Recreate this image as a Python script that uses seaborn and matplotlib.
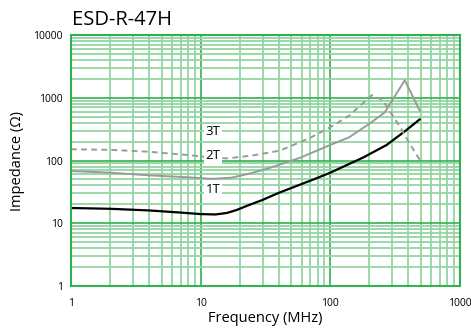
import numpy as np
import pandas as pd
import matplotlib
matplotlib.use("Agg")
import matplotlib.pyplot as plt
from matplotlib.ticker import FixedLocator, LogLocator, NullFormatter
import seaborn as sns

# chart data
f_1t = [1, 2, 4, 7, 10, 13, 16, 19, 24, 30, 40, 58, 80, 100, 118, 180, 272, 387, 490]
z_1t = [17.5, 17, 16, 14.8, 14, 13.8, 14.6, 16.3, 19.8, 23.5, 30.5, 41, 53, 64, 75, 112, 177, 306, 454]

f_2t = [1, 2, 4, 8, 12, 17, 24, 34, 58, 100, 140, 202, 263, 375, 490]
z_2t = [68, 64, 58, 54, 51, 53, 62, 76, 110, 177, 235, 390, 585, 1900, 620]

f_3t = [1, 2, 4, 8, 12, 16, 25, 41, 70, 100, 140, 209, 253, 344, 423, 490]
z_3t = [151, 148, 138, 122, 112, 108, 120, 144, 230, 340, 520, 1100, 920, 346, 166, 102]

x_ticks = [1, 10, 100, 1000]
x_tick_labels = ["1", "10", "100", "1000"]
y_ticks = [1, 10, 100, 1000, 10000]
y_tick_labels = ["1", "10", "100", "1000", "10000"]

# curve labels: text, frequency, impedance
curve_labels = [("3T", 12.4, 285), ("2T", 12.4, 119), ("1T", 12.4, 35)]

sns.set_style("white")
plt.rcParams['font.family'] = ['Open Sans', 'DejaVu Sans']

fig = plt.figure(figsize=(4.71, 3.29), dpi=100)
ax = fig.add_axes([0.1507, 0.1307, 0.8259, 0.7629])

green = "#33b150"
light_green = "#93d6a3"

sns.lineplot(x=f_1t, y=z_1t, ax=ax, color="black", linewidth=1.6, sort=False)
sns.lineplot(x=f_2t, y=z_2t, ax=ax, color="#9a9a9a", linewidth=1.4, sort=False)
sns.lineplot(x=f_3t, y=z_3t, ax=ax, color="#9a9a9a", linewidth=1.4, sort=False,
             linestyle=(0, (3, 2.2)))

ax.set_xscale("log")
ax.set_yscale("log")
ax.set_xlim(1, 1000)
ax.set_ylim(1, 10000)

ax.xaxis.set_major_locator(FixedLocator(x_ticks))
ax.set_xticklabels(x_tick_labels)
ax.yaxis.set_major_locator(FixedLocator(y_ticks))
ax.set_yticklabels(y_tick_labels)
ax.xaxis.set_minor_locator(LogLocator(base=10, subs=np.arange(2, 10)))
ax.yaxis.set_minor_locator(LogLocator(base=10, subs=np.arange(2, 10)))
ax.xaxis.set_minor_formatter(NullFormatter())
ax.yaxis.set_minor_formatter(NullFormatter())

ax.grid(which="minor", color=light_green, linewidth=1.3, zorder=0)
ax.grid(which="major", color=green, linewidth=1.2, zorder=0)
ax.set_axisbelow(True)
ax.tick_params(which="both", length=0, labelsize=7.5, pad=9, labelcolor="black")
ax.tick_params(axis="y", pad=6)
for s in ax.spines.values():
    s.set_color(green)
    s.set_linewidth(1.5)

for txt, fx, zy in curve_labels:
    ax.text(fx, zy, txt, ha="center", va="center", fontsize=9.5, color="black",
            bbox=dict(facecolor="white", edgecolor="none", pad=1.2), zorder=5)

ax.set_xlabel("Frequency (MHz)", fontsize=10.5, labelpad=1, color="black")
ax.set_ylabel("Impedance (Ω)", fontsize=10.5, labelpad=6, color="black")
fig.text(0.152, 0.925, "ESD-R-47H", fontsize=14.5, ha="left", va="baseline", color="black")

fig.savefig("out.png", dpi=100)
